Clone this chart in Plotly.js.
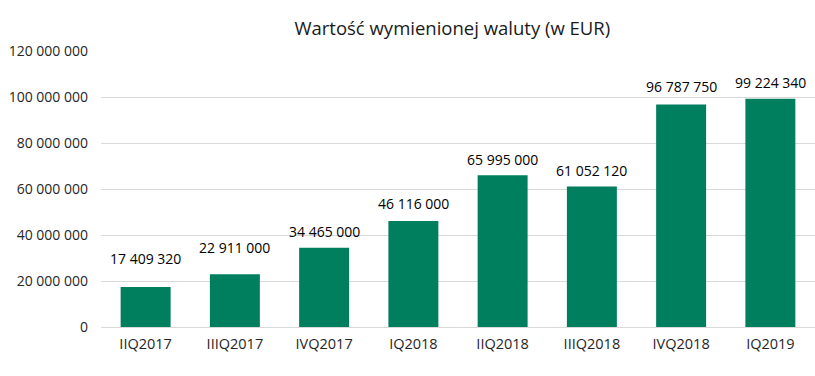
<!DOCTYPE html>
<html>
<head>
<meta charset="utf-8">
<script src="https://cdn.plot.ly/plotly-3.0.1.min.js"></script>
<style>html,body{margin:0;padding:0;background:#fff;}#chart{width:815px;height:376px;}</style>
</head>
<body>
<div id="chart"></div>
<script>
var categories = ["IIQ2017", "IIIQ2017", "IVQ2017", "IQ2018", "IIQ2018", "IIIQ2018", "IVQ2018", "IQ2019"];
var values = [17409320, 22911000, 34465000, 46116000, 65995000, 61052120, 96787750, 99224340];
var tickValues = [0, 20000000, 40000000, 60000000, 80000000, 100000000, 120000000];

// label lift above bar top (px), a style setting
var labelLift = [28, 27, 16, 17, 16, 16, 18, 16];

function fmt(v) {
  return String(Math.round(v)).replace(/\B(?=(\d{3})+(?!\d))/g, " ");
}

var font = "Open Sans, Noto Sans, sans-serif";

var trace = {
  type: "bar",
  x: categories,
  y: values,
  marker: {color: "#007f5f"},
  hoverinfo: "x+y"
};

var annotations = categories.map(function (c, i) {
  return {
    x: c, y: values[i], xref: "x", yref: "y",
    text: fmt(values[i]), showarrow: false,
    yanchor: "middle", xanchor: "center", yshift: labelLift[i],
    font: {family: font, size: 14, color: "#000"}
  };
});

var layout = {
  width: 815, height: 376,
  margin: {l: 101, r: 0, t: 51, b: 49, pad: 0},
  paper_bgcolor: "#fff", plot_bgcolor: "#fff",
  bargap: 0.44,
  showlegend: false,
  separators: ", ",
  title: {text: "Wartość wymienionej waluty (w EUR)", x: 0.555, xanchor: "center", y: 0.925, yanchor: "middle",
          font: {family: font, size: 18.5, color: "#1a1a1a"}},
  xaxis: {
    type: "category",
    tickfont: {family: font, size: 14.5, color: "#262626"},
    showgrid: false, zeroline: false, showline: false, ticks: "",
    ticklabelstandoff: 6
  },
  yaxis: {
    range: [0, 120000000],
    tickvals: tickValues,
    ticktext: tickValues.map(fmt),
    tickfont: {family: font, size: 14, color: "#262626"},
    showgrid: true, gridcolor: "#d9d9d9", gridwidth: 1,
    zeroline: true, zerolinecolor: "#d9d9d9", zerolinewidth: 1,
    showline: false, ticks: "",
    ticklabelstandoff: 12
  },
  annotations: annotations
};

Plotly.newPlot("chart", [trace], layout, {displayModeBar: false, staticPlot: true});
</script>
</body>
</html>
